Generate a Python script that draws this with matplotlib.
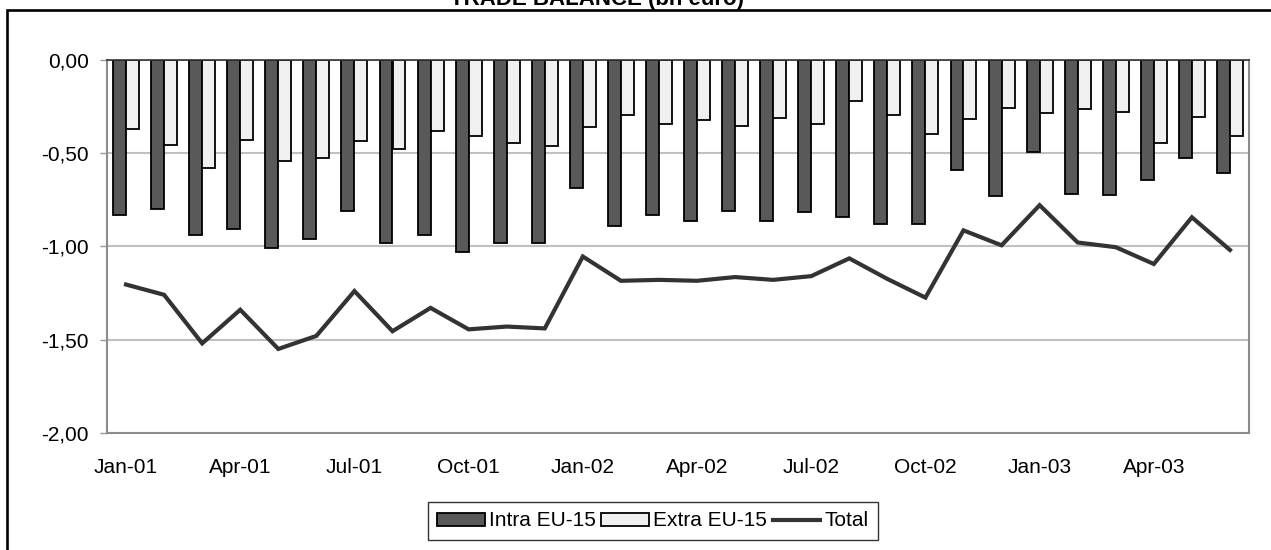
import matplotlib
matplotlib.use("Agg")
import matplotlib.pyplot as plt
from matplotlib.patches import Rectangle, Patch
from matplotlib.lines import Line2D
import numpy as np

plt.rcParams['font.family'] = ['Liberation Sans', 'DejaVu Sans']

months = ["Jan", "Feb", "Mar", "Apr", "May", "Jun", "Jul", "Aug", "Sep", "Oct", "Nov", "Dec"]
categories = [f"{m}-{y:02d}" for y in (1, 2, 3) for m in months][:30]

intra = [-0.83, -0.80, -0.94, -0.91, -1.01, -0.96, -0.81, -0.98, -0.94, -1.03,
         -0.98, -0.98, -0.69, -0.89, -0.83, -0.865, -0.81, -0.865, -0.815, -0.845,
         -0.88, -0.88, -0.59, -0.73, -0.495, -0.72, -0.725, -0.645, -0.53, -0.61]
extra = [-0.37, -0.46, -0.58, -0.43, -0.545, -0.53, -0.435, -0.48, -0.385, -0.41,
         -0.445, -0.465, -0.36, -0.295, -0.345, -0.325, -0.355, -0.315, -0.345, -0.22,
         -0.295, -0.40, -0.32, -0.26, -0.285, -0.265, -0.28, -0.445, -0.31, -0.41]
total = [-1.205, -1.26, -1.52, -1.34, -1.55, -1.48, -1.24, -1.455, -1.33, -1.445,
         -1.43, -1.44, -1.055, -1.185, -1.18, -1.185, -1.165, -1.18, -1.16, -1.065,
         -1.175, -1.275, -0.915, -0.995, -0.78, -0.98, -1.005, -1.095, -0.845, -1.02]
yticks = [0.0, -0.5, -1.0, -1.5, -2.0]

W, H = 1271, 550
fig = plt.figure(figsize=(W / 100, H / 100), dpi=100)

ax = fig.add_axes([107 / W, 1 - 433 / H, (1249 - 107) / W, (433 - 59.5) / H])
x = np.arange(len(categories))
bw = 0.34
c_intra = '#595959'
c_extra = '#f0f0f0'
c_line = '#333333'

ax.bar(x - bw / 2, intra, width=bw, color=c_intra, edgecolor='black', linewidth=1.3, zorder=3)
ax.bar(x + bw / 2, extra, width=bw, color=c_extra, edgecolor='black', linewidth=1.3, zorder=3)
ax.plot(x, total, color=c_line, linewidth=3, zorder=4, solid_joinstyle='miter')

ax.set_xlim(-0.5, len(categories) - 0.5)
ax.set_ylim(-2.0, 0.0)
ax.set_yticks(yticks)
ax.set_yticklabels([f"{v:.2f}".replace('.', ',') for v in yticks], fontsize=15)
ax.yaxis.grid(True, color='#c0c0c0', linewidth=1.5, zorder=0)
ax.set_axisbelow(True)
ax.tick_params(axis='y', length=5, width=1, color='#999999', pad=8)

ax.set_xticks(x[::3])
ax.set_xticklabels(categories[::3], fontsize=15)
ax.tick_params(axis='x', length=0, pad=18)

for side in ('left', 'bottom', 'right'):
    ax.spines[side].set_color('#8c8c8c')
    ax.spines[side].set_linewidth(1.5)
ax.spines['top'].set_color('#333333')
ax.spines['top'].set_linewidth(1.2)
ax.spines['top'].set_zorder(5)

handles = [Patch(facecolor=c_intra, edgecolor='black', linewidth=1.3),
           Patch(facecolor=c_extra, edgecolor='black', linewidth=1.3),
           Line2D([0], [0], color=c_line, linewidth=3)]
leg = fig.legend(handles, ["Intra EU-15", "Extra EU-15", "Total"], loc='center',
                 bbox_to_anchor=(653 / W, 1 - 521 / H), ncol=3, fontsize=15,
                 frameon=True, fancybox=False, handlelength=2.3, handleheight=0.6,
                 handletextpad=0.2, columnspacing=0.25, borderpad=0.45,
                 borderaxespad=0)
leg.get_frame().set_edgecolor('black')
leg.get_frame().set_linewidth(1.0)

# outer frame (cut by the image edges)
fig.patches.append(Rectangle((7.2 / W, -0.2), 1.2, 1.2 - 9.5 / H, transform=fig.transFigure,
                             fill=False, edgecolor='black', linewidth=1.9))
fig.text(597 / W, 1 - 5 / H, "TRADE BALANCE (bn euro)", ha='center', va='baseline',
         fontsize=16, fontweight='bold')

fig.savefig("out.png", dpi=100)
